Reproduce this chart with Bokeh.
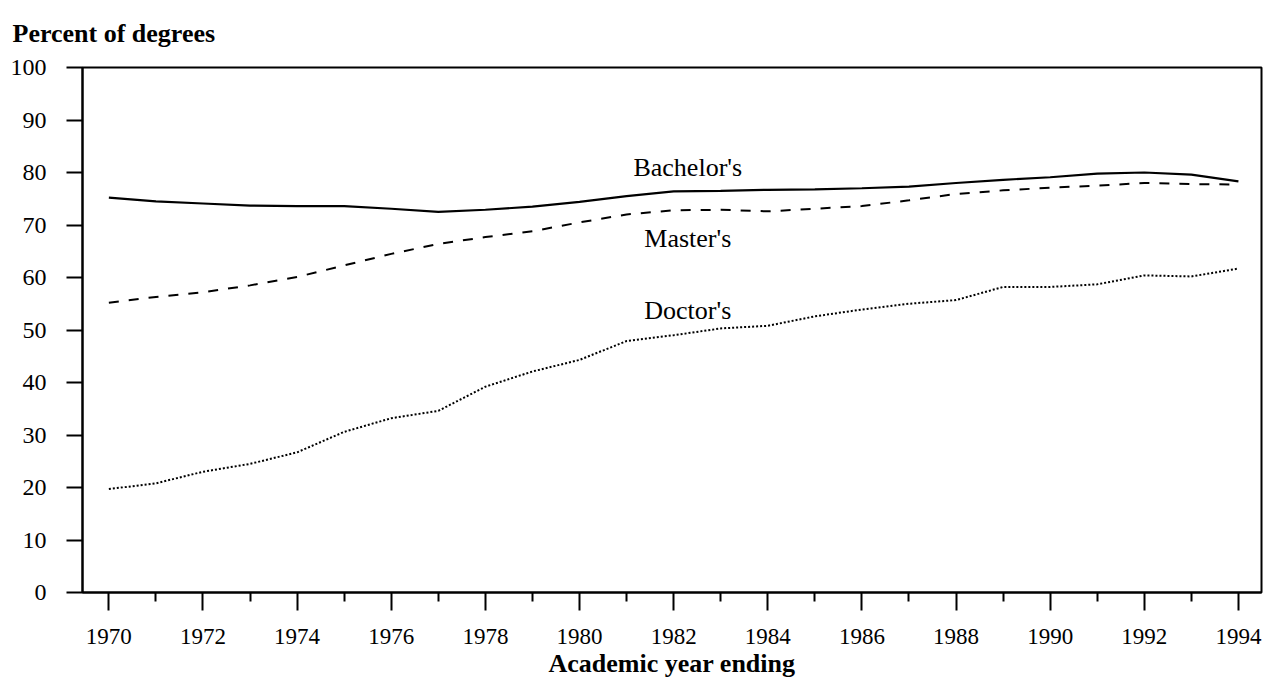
from bokeh.plotting import figure
from bokeh.models import FixedTicker, Range1d
from bokeh.core.properties import value
from bokeh.embed import file_html
from bokeh.resources import INLINE

years = list(range(1970, 1995))
bachelors = [75.2, 74.5, 74.1, 73.7, 73.6, 73.6, 73.1, 72.5, 72.9, 73.5, 74.4, 75.5,
             76.4, 76.5, 76.7, 76.8, 77.0, 77.3, 78.0, 78.6, 79.1, 79.8, 80.0, 79.6, 78.3]
masters = [55.2, 56.3, 57.2, 58.5, 60.1, 62.3, 64.5, 66.4, 67.7, 68.8, 70.5, 72.0,
           72.8, 72.9, 72.6, 73.1, 73.6, 74.7, 75.9, 76.6, 77.1, 77.5, 78.0, 77.8, 77.7]
doctors = [19.7, 20.8, 23.0, 24.5, 26.7, 30.6, 33.2, 34.6, 39.2, 42.1, 44.3, 47.9,
           49.0, 50.3, 50.8, 52.6, 53.9, 55.0, 55.7, 58.2, 58.2, 58.7, 60.4, 60.2, 61.7]
series_names = ["Bachelor's", "Master's", "Doctor's"]
x_major_ticks = list(range(1970, 1995, 2))
x_minor_ticks = list(range(1971, 1994, 2))
y_ticks = list(range(0, 101, 10))
x_title = "Academic year ending"
y_title = "Percent of degrees"

# annotation placement for series labels (year, percent)
label_pos = [(1982.3, 80.9), (1982.3, 67.5), (1982.3, 53.8)]

FONT = "Liberation Serif"

p = figure(width=1265, height=680, output_backend="svg", toolbar_location=None,
           x_range=Range1d(1969.44, 1994.49), y_range=Range1d(0, 100),
           min_border_left=82, min_border_right=4, min_border_top=67, min_border_bottom=87,
           background_fill_color="white", border_fill_color="white")

p.xgrid.visible = False
p.ygrid.visible = False
p.outline_line_color = "black"
p.outline_line_width = 2

p.line(years, bachelors, line_color="black", line_width=2.2)
p.line(years, masters, line_color="black", line_width=2, line_dash="10 10")
p.line(years, doctors, line_color="black", line_width=2, line_dash="2 2")

for (lx, ly), name in zip(label_pos, series_names):
    p.text(x=[lx], y=[ly], text=[name], text_font=value(FONT), text_font_size="26px",
           text_align="center", text_baseline="alphabetic", text_color="black")

# x axis
xa = p.xaxis[0]
xa.ticker = FixedTicker(ticks=x_major_ticks, minor_ticks=x_minor_ticks)
xa.axis_line_width = 2
xa.major_tick_line_width = 2
xa.minor_tick_line_width = 2
xa.major_tick_in = 0
xa.major_tick_out = 18
xa.minor_tick_in = 0
xa.minor_tick_out = 9
xa.major_label_standoff = 18
xa.major_label_text_font = FONT
xa.major_label_text_font_size = "23px"
xa.major_label_text_color = "black"
xa.axis_label = x_title
xa.axis_label_text_font = FONT
xa.axis_label_text_font_style = "bold"
xa.axis_label_text_font_size = "26px"
xa.axis_label_text_color = "black"
xa.axis_label_standoff = 2

# y axis
ya = p.yaxis[0]
ya.ticker = FixedTicker(ticks=y_ticks, minor_ticks=[])
ya.axis_line_width = 2
ya.major_tick_line_width = 2
ya.major_tick_in = 0
ya.major_tick_out = 16
ya.major_label_standoff = 20
ya.major_label_text_font = FONT
ya.major_label_text_font_size = "24px"
ya.major_label_text_color = "black"

p.title.text = y_title
p.title.text_font = FONT
p.title.text_font_style = "bold"
p.title.text_font_size = "26px"
p.title.text_color = "black"
p.title.align = "left"
p.title.vertical_align = "top"
p.title.offset = -70
p.title.standoff = 36

open("out.html", "w").write(file_html(p, INLINE))
